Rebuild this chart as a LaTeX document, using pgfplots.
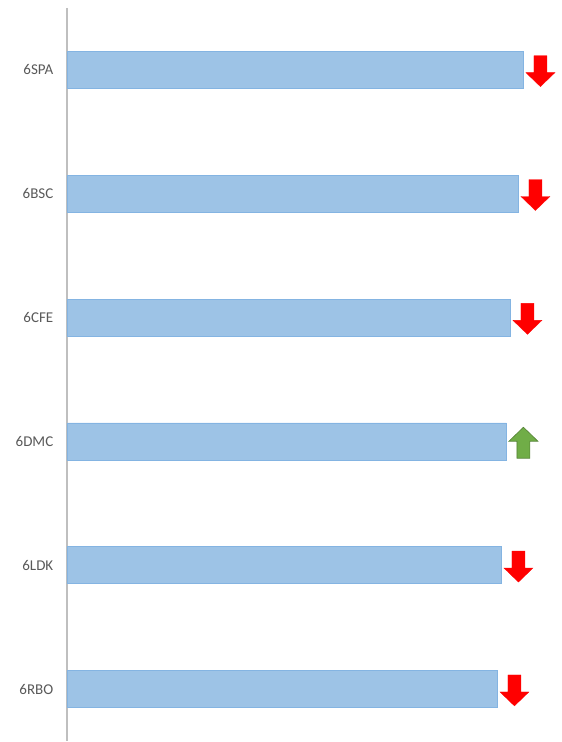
\documentclass[border=0pt]{standalone}
\usepackage{pgfplots}
\pgfplotsset{compat=1.18}
\usepackage{pgfplotstable}
\usepackage{fontspec}
\setmainfont{Carlito}
\definecolor{barfill}{HTML}{9DC3E6}
\definecolor{barline}{HTML}{84B4E2}
\definecolor{axgray}{HTML}{BFBFBF}
\definecolor{lblgray}{HTML}{595959}
\definecolor{upgreen}{HTML}{70AD47}
\definecolor{upgreenline}{HTML}{548235}
\pgfdeclareplotmark{darrow}{%
  \pgfpathmoveto{\pgfpoint{-6.5pt}{15.5pt}}%
  \pgfpathlineto{\pgfpoint{6.5pt}{15.5pt}}%
  \pgfpathlineto{\pgfpoint{6.5pt}{-1.5pt}}%
  \pgfpathlineto{\pgfpoint{14.5pt}{-1.5pt}}%
  \pgfpathlineto{\pgfpoint{0pt}{-15.5pt}}%
  \pgfpathlineto{\pgfpoint{-14.5pt}{-1.5pt}}%
  \pgfpathlineto{\pgfpoint{-6.5pt}{-1.5pt}}%
  \pgfpathclose
  \pgfusepathqfillstroke}
\pgfdeclareplotmark{uarrow}{%
  \pgfpathmoveto{\pgfpoint{-6.5pt}{-15.5pt}}%
  \pgfpathlineto{\pgfpoint{6.5pt}{-15.5pt}}%
  \pgfpathlineto{\pgfpoint{6.5pt}{1.5pt}}%
  \pgfpathlineto{\pgfpoint{14.5pt}{1.5pt}}%
  \pgfpathlineto{\pgfpoint{0pt}{15.5pt}}%
  \pgfpathlineto{\pgfpoint{-14.5pt}{1.5pt}}%
  \pgfpathlineto{\pgfpoint{-6.5pt}{1.5pt}}%
  \pgfpathclose
  \pgfusepathqfillstroke}
\pgfplotstableread{
x y
457 0
452 1
444 2
440 3
435 4
431 5
}\bars
\pgfplotstableread{
x y
474 0.01
469 1.01
461 2.01
452 4.01
448 5.01
}\downarrows
\pgfplotstableread{
x y
457 3.01
}\uparrows
\begin{document}
\begin{tikzpicture}
\begin{axis}[
  scale only axis,
  width=495pt, height=734pt,
  xmin=0, xmax=495,
  ymin=-0.5, ymax=5.42,
  y dir=reverse,
  axis x line=none,
  axis y line=left,
  axis line style={-, draw=axgray, line width=1.6pt},
  ytick={0,1,2,3,4,5},
  yticklabels={6SPA,6BSC,6CFE,6DMC,6LDK,6RBO},
  ytick style={draw=none},
  yticklabel style={font=\fontsize{15}{18}\selectfont, text=lblgray, anchor=east, xshift=-8pt},
  clip=false,
]
\addplot[xbar, bar width=37pt, fill=barfill, draw=barline, line width=0.8pt] table[x=x,y=y] {\bars};
\addplot[only marks, mark=darrow, fill=red, draw=red, line width=0.3pt] table[x=x,y=y] {\downarrows};
\addplot[only marks, mark=uarrow, fill=upgreen, draw=upgreenline, line width=0.6pt] table[x=x,y=y] {\uparrows};
\end{axis}
\useasboundingbox ([xshift=-67pt]current axis.south west) rectangle ([xshift=495pt,yshift=742pt]current axis.south west);
\end{tikzpicture}
\end{document}
